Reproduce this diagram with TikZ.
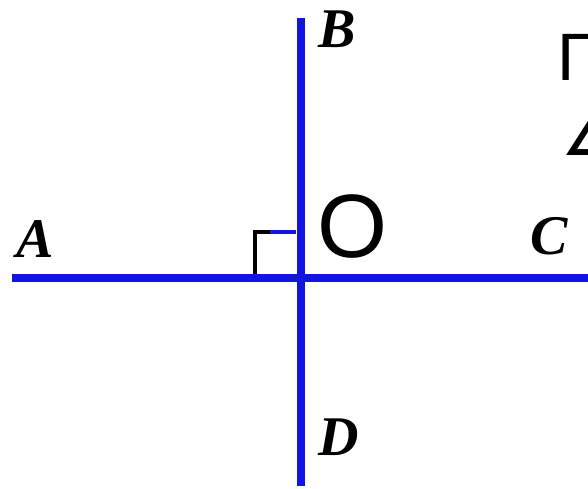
\documentclass[tikz,border=0pt]{standalone}
\usepackage{fontspec}
\setmainfont{Liberation Serif}
\newfontfamily\lsans{Liberation Sans}
\newfontfamily\dejavu{DejaVu Sans}
\definecolor{lineblue}{RGB}{20,20,225}
\begin{document}
\begin{tikzpicture}[x=1pt,y=1pt,
  ptlabel/.style={inner sep=0pt,anchor=base west,font=\fontsize{56}{56}\selectfont\bfseries\itshape},
  bigtext/.style={inner sep=0pt,anchor=base west},
  mainline/.style={draw=lineblue,line width=8.5pt}]
\useasboundingbox (0,0) rectangle (588,-488);
\begin{scope}
\clip (0,0) rectangle (588,-488);
% line endpoints
\coordinate (Aend) at (12,-278);
\coordinate (Cend) at (588,-278);
\coordinate (Bend) at (301,-18);
\coordinate (Dend) at (301,-486);
\coordinate (O) at (301,-278);
\draw[mainline] (Aend) -- (Cend);
\draw[mainline] (Bend) -- (Dend);
% right-angle mark
\coordinate (m1) at (255,-274);
\coordinate (m2) at (255,-232);
\coordinate (m3) at (296,-232);
\draw[black,line width=3.5pt] (m1) -- (m2) -- (m3);
\draw[lineblue,line width=3.5pt] (270,-232) -- (m3);
% labels
\node[ptlabel] (A) at (16,-257) {A};
\node[ptlabel] (B) at (318,-47) {B};
\node[ptlabel] (C) at (530,-254) {C};
\node[ptlabel] (D) at (318,-455) {D};
\node[bigtext,font=\fontsize{90}{90}\selectfont\lsans] (Olab) at (317,-257) {O};
\node[bigtext,font=\fontsize{67}{67}\selectfont\lsans] (gam) at (557,-80) {Γ};
\node[bigtext,font=\fontsize{60}{60}\selectfont\dejavu] (ang) at (561,-155) {∠};
\end{scope}
\end{tikzpicture}
\end{document}
